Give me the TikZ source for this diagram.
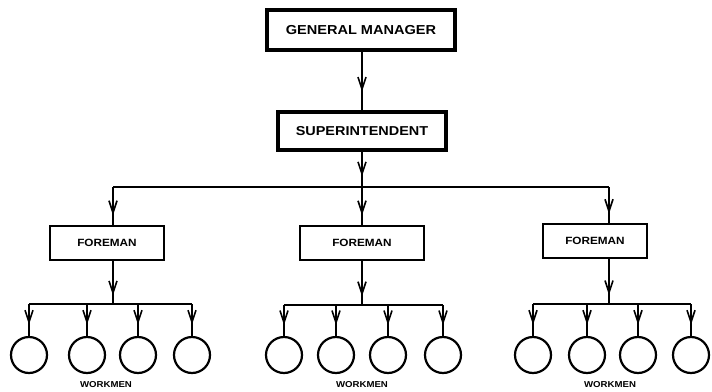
\documentclass[tikz,border=0pt]{standalone}
\usepackage{fontspec}
\setmainfont{Liberation Sans}[FakeStretch=1.12]
\usetikzlibrary{arrows.meta,decorations.markings}
\tikzset{
  wire/.style={line width=1.6pt},
  midarrow/.style={wire,postaction={decorate},decoration={markings,
     mark=at position #1 with {\arrow{Straight Barb[length=12pt,width=8pt,line width=1.6pt]}}}},
  midarrow/.default=0.6,
  bigbox/.style={draw,line width=3.2pt,font=\bfseries\fontsize{13}{15}\selectfont,inner sep=0pt},
  fmbox/.style={draw,line width=2.6pt,font=\bfseries\fontsize{10.5}{12}\selectfont,inner sep=0pt,
     minimum height=34pt},
  worker/.style={draw,circle,line width=2.2pt,minimum size=36pt,inner sep=0pt},
  lab/.style={font=\bfseries\fontsize{8.6}{10}\selectfont,inner sep=0pt}
}
\begin{document}
\begin{tikzpicture}[x=1pt,y=-1pt]
\useasboundingbox (0,0) rectangle (712,391);
% top boxes
\node[bigbox,minimum width=188pt,minimum height=40pt] (gm) at (361,30) {GENERAL MANAGER};
\node[bigbox,minimum width=168pt,minimum height=38pt,font=\bfseries\fontsize{12.9}{15}\selectfont] (sup) at (362,131) {SUPERINTENDENT};
\draw[midarrow=0.68] (gm.south -| sup.north) -- (sup.north);
% main bus
\coordinate (bl) at (113,187);
\coordinate (bm) at (362,187);
\coordinate (br) at (609,187);
\draw[midarrow=0.7] (sup.south) -- (bm);
\draw[wire,rounded corners=2pt] (bl) -- (br);
% foremen
\node[fmbox,minimum width=114pt] (f1) at (107,243) {FOREMAN};
\node[fmbox,minimum width=124pt] (f2) at (362,243) {FOREMAN};
\node[fmbox,minimum width=104pt] (f3) at (595,241) {FOREMAN};
\draw[midarrow=0.75] (bl) -- (bl |- f1.north);
\draw[midarrow=0.75] (bm) -- (f2.north);
\draw[midarrow=0.75] (br) -- (br |- f3.north);
% sub buses
\coordinate (s1) at (113,304);
\coordinate (s2) at (362,305);
\coordinate (s3) at (609,304);
\draw[midarrow=0.8] (f1.south -| s1) -- (s1);
\draw[midarrow=0.8] (f2.south) -- (s2);
\draw[midarrow=0.8] (f3.south -| s3) -- (s3);
% workers
\foreach \n/\x in {a/29,b/87,c/138,d/192}{
  \node[worker] (w1\n) at (\x,355) {};
}
\foreach \n/\x in {a/284,b/336,c/388,d/443}{
  \node[worker] (w2\n) at (\x,355) {};
}
\foreach \n/\x in {a/533,b/587,c/638,d/691}{
  \node[worker] (w3\n) at (\x,355) {};
}
\draw[wire] (w1a.north |- s1) -- (w1d.north |- s1);
\draw[wire] (w2a.north |- s2) -- (w2d.north |- s2);
\draw[wire] (w3a.north |- s3) -- (w3d.north |- s3);
\foreach \g/\s in {1/s1,2/s2,3/s3}{
  \foreach \n in {a,b,c,d}{
    \draw[midarrow=0.65] (w\g\n.north |- \s) -- (w\g\n.north);
  }
}
% labels
\node[lab] (l1) at (106,385) {WORKMEN};
\node[lab] (l2) at (362,385) {WORKMEN};
\node[lab] (l3) at (610,385) {WORKMEN};
\end{tikzpicture}
\end{document}
